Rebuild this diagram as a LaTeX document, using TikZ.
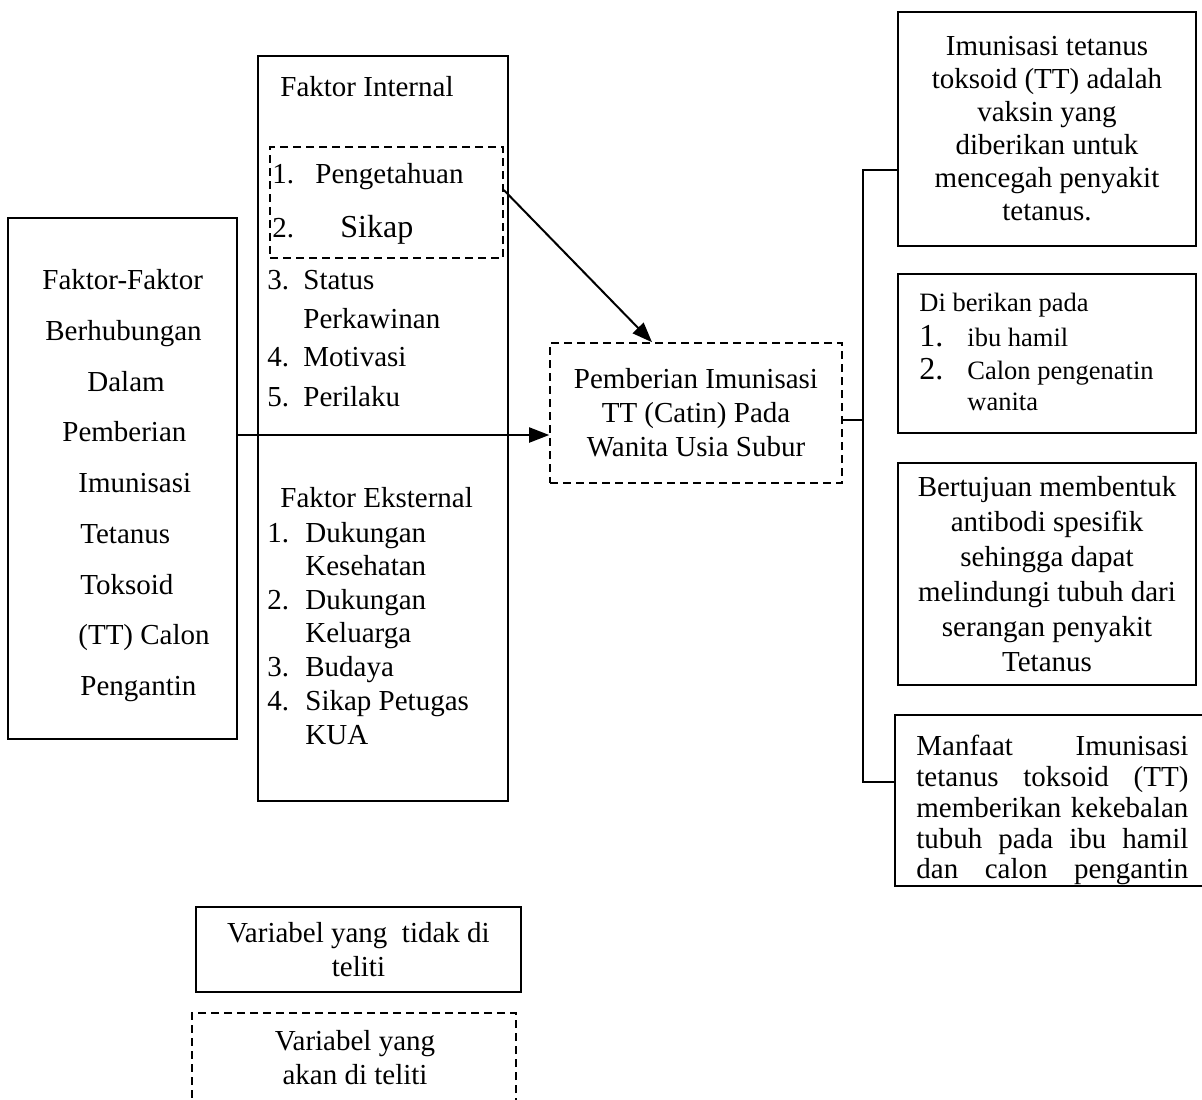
\documentclass[tikz,border=0pt]{standalone}
\usepackage{fontspec}
\setmainfont{Liberation Serif}
\usetikzlibrary{arrows.meta}
\newcommand\fsA{\fontsize{14.5pt}{17pt}\selectfont}
\newcommand\fsB{\fontsize{13.25pt}{16pt}\selectfont}
\newcommand\fsN{\fontsize{16pt}{19pt}\selectfont}
\begin{document}
\begin{tikzpicture}[x=0.5pt,y=-0.5pt,
  box/.style={draw, line width=0.9pt, inner sep=0pt, align=center, font=\fsA},
  dbox/.style={box, line width=0.8pt, dash pattern=on 4pt off 2.5pt},
  txt/.style={inner sep=0pt, anchor=mid west, yshift=-2.5pt, font=\fsA},
  arr/.style={line width=1pt, -{Triangle[length=10pt,width=7.5pt]}},
  conn/.style={line width=0.9pt}]
\useasboundingbox (0,0) rectangle (1202,1099);
\clip (0,0) rectangle (1202,1099);
\fill[white] (0,0) rectangle (1202,1099);

% left box
\node[box, minimum width=114.5pt, minimum height=260.5pt] (lbox) at (122.5,478.5) {};
\node[txt] (l1) at (42,280) {Faktor-Faktor};
\node[txt] (l2) at (45,331) {Berhubungan};
\node[txt] (l3) at (87,382) {Dalam};
\node[txt] (l4) at (62,432) {Pemberian};
\node[txt] (l5) at (78,483) {Imunisasi};
\node[txt] (l6) at (80,534) {Tetanus};
\node[txt] (l7) at (80,585) {Toksoid};
\node[txt] (l8) at (78,635) {(TT) Calon};
\node[txt] (l9) at (80,686) {Pengantin};

% middle box
\node[box, minimum width=125pt, minimum height=372.5pt] (mbox) at (383,428.5) {};
\node[txt] (fi) at (280,87) {Faktor Internal};
\node[dbox, minimum width=116.5pt, minimum height=55.5pt] (idash) at (386.5,202.5) {};
\node[txt] (i1n) at (272,174) {1.};
\node[txt] (i1) at (315,174) {Pengetahuan};
\node[txt] (i2n) at (272,228) {2.};
\node[txt, font=\fsN] (i2) at (340,228) {Sikap};
\node[txt] (i3n) at (267,280) {3.};
\node[txt] (i3) at (303,280) {Status};
\node[txt] (i3b) at (303,319) {Perkawinan};
\node[txt] (i4n) at (267,357) {4.};
\node[txt] (i4) at (303,357) {Motivasi};
\node[txt] (i5n) at (267,397) {5.};
\node[txt] (i5) at (303,397) {Perilaku};
\node[txt] (fe) at (280,498) {Faktor Eksternal};
\node[txt] (e1n) at (267,533) {1.};
\node[txt] (e1) at (305,533) {Dukungan};
\node[txt] (e1b) at (305,566) {Kesehatan};
\node[txt] (e2n) at (267,600) {2.};
\node[txt] (e2) at (305,600) {Dukungan};
\node[txt] (e2b) at (305,633) {Keluarga};
\node[txt] (e3n) at (267,667) {3.};
\node[txt] (e3) at (305,667) {Budaya};
\node[txt] (e4n) at (267,701) {4.};
\node[txt] (e4) at (305,701) {Sikap Petugas};
\node[txt] (e4b) at (305,735) {KUA};

% centre box
\node[dbox, minimum width=146pt, minimum height=70pt, font=\fontsize{14.5pt}{17pt}\selectfont] (cbox) at (696,413) {Pemberian Imunisasi\\TT (Catin) Pada\\Wanita Usia Subur};

% right boxes
\node[box, minimum width=149pt, minimum height=117pt, font=\fontsize{14.5pt}{16.5pt}\selectfont] (r1) at (1047,129) {Imunisasi tetanus\\toksoid (TT) adalah\\vaksin yang\\diberikan untuk\\mencegah penyakit\\tetanus.};

\node[box, minimum width=149pt, minimum height=79.5pt] (r2) at (1047,353.5) {};
\node[txt, font=\fsB] (r2t) at (919,302) {Di berikan pada};
\node[txt, font=\fsN] (r2n1) at (919,337) {1.};
\node[txt, font=\fsB] (r2a) at (967,337) {ibu hamil};
\node[txt, font=\fsN] (r2n2) at (919,370) {2.};
\node[txt, font=\fsB] (r2b) at (967,370) {Calon pengenatin};
\node[txt, font=\fsB] (r2c) at (967,401) {wanita};

\node[box, minimum width=149pt, minimum height=111pt, font=\fontsize{14.5pt}{17.5pt}\selectfont] (r3) at (1047,574) {Bertujuan membentuk\\antibodi spesifik\\sehingga dapat\\melindungi tubuh dari\\serangan penyakit\\Tetanus};

\node[box, minimum width=160pt, minimum height=85.5pt] (r4) at (1055,800.5) {};
\node[txt] (m1) at (916,746) {\hbox to 136pt{Manfaat\hfill Imunisasi}};
\node[txt] (m2) at (916,777) {\hbox to 136pt{tetanus\hfill toksoid\hfill (TT)}};
\node[txt] (m3) at (916,808) {\hbox to 136pt{memberikan\hfill kekebalan}};
\node[txt] (m4) at (916,839) {\hbox to 136pt{tubuh\hfill pada\hfill ibu\hfill hamil}};
\node[txt] (m5) at (916,869) {\hbox to 136pt{dan\hfill calon\hfill pengantin}};

% legend
\node[box, minimum width=162.5pt, minimum height=42.5pt] (v1) at (358.5,949.5) {Variabel yang~~tidak di\\teliti};
\node[dbox, minimum width=162pt, minimum height=53.5pt] (v2) at (354,1066.5) {};
\node[inner sep=0pt, align=center, font=\fsA] (v2t) at (355,1057.5) {Variabel yang\\akan di teliti};

% connectors
\coordinate (jt) at (863,170);
\coordinate (jm) at (863,420);
\coordinate (jb) at (863,782);
\draw[conn] (r1.west |- jt) -- (jt) -- (jb) -- (r4.west |- jb);
\draw[conn] (cbox.east |- jm) -- (jm);
\coordinate (a1s) at (503,190);
\coordinate (a1e) at (652,343);
\draw[arr] (idash.east |- a1s) -- (cbox.north -| a1e);
\coordinate (a2) at (0,435);
\draw[arr] (lbox.east |- a2) -- (cbox.west |- a2);
\end{tikzpicture}
\end{document}
